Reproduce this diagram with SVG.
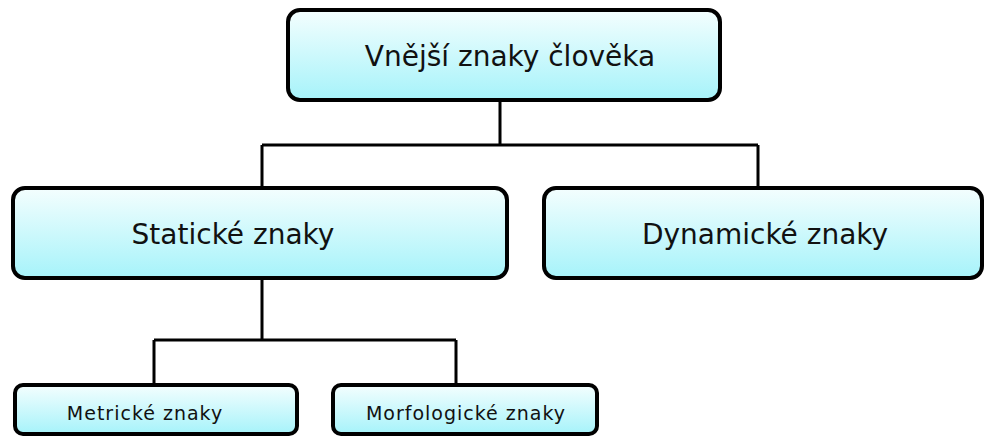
<svg xmlns="http://www.w3.org/2000/svg" width="984" height="437" viewBox="0 0 984 437">
<defs>
<linearGradient id="g" x1="0" y1="0" x2="0" y2="1">
<stop offset="0" stop-color="#f4fefe"/>
<stop offset="1" stop-color="#a6f3fa"/>
</linearGradient>
<style>
.box{fill:url(#g);stroke:#000;stroke-width:4}
.big{font-family:"DejaVu Sans",sans-serif;font-size:28px;fill:#111;text-anchor:middle}
.small{font-family:"DejaVu Sans",sans-serif;font-size:19px;letter-spacing:1px;fill:#111;text-anchor:middle}
.c{fill:none;stroke:#000;stroke-width:3}
</style>
</defs>
<rect width="984" height="437" fill="#fff"/>
<g id="connectors">
<path class="c" d="M500 101V145M262 145H758M262 145V188M758 145V188"/>
<path class="c" d="M262 278V340M154 340H456M154 340V385M456 340V385"/>
</g>
<g id="n-top">
<rect class="box" x="288" y="10" width="432" height="90" rx="12"/>
<text class="big" x="510" y="66">Vnější znaky člověka</text>
</g>
<g id="n-static">
<rect class="box" x="13" y="188" width="494" height="90" rx="12"/>
<text class="big" x="233" y="244">Statické znaky</text>
</g>
<g id="n-dynamic">
<rect class="box" x="544" y="188" width="438" height="90" rx="12"/>
<text class="big" x="765" y="244">Dynamické znaky</text>
</g>
<g id="n-metric">
<rect class="box" x="15" y="385" width="282" height="49" rx="8"/>
<text class="small" x="145" y="420">Metrické znaky</text>
</g>
<g id="n-morph">
<rect class="box" x="333" y="385" width="264" height="49" rx="8"/>
<text class="small" x="466" y="420">Morfologické znaky</text>
</g>
</svg>
